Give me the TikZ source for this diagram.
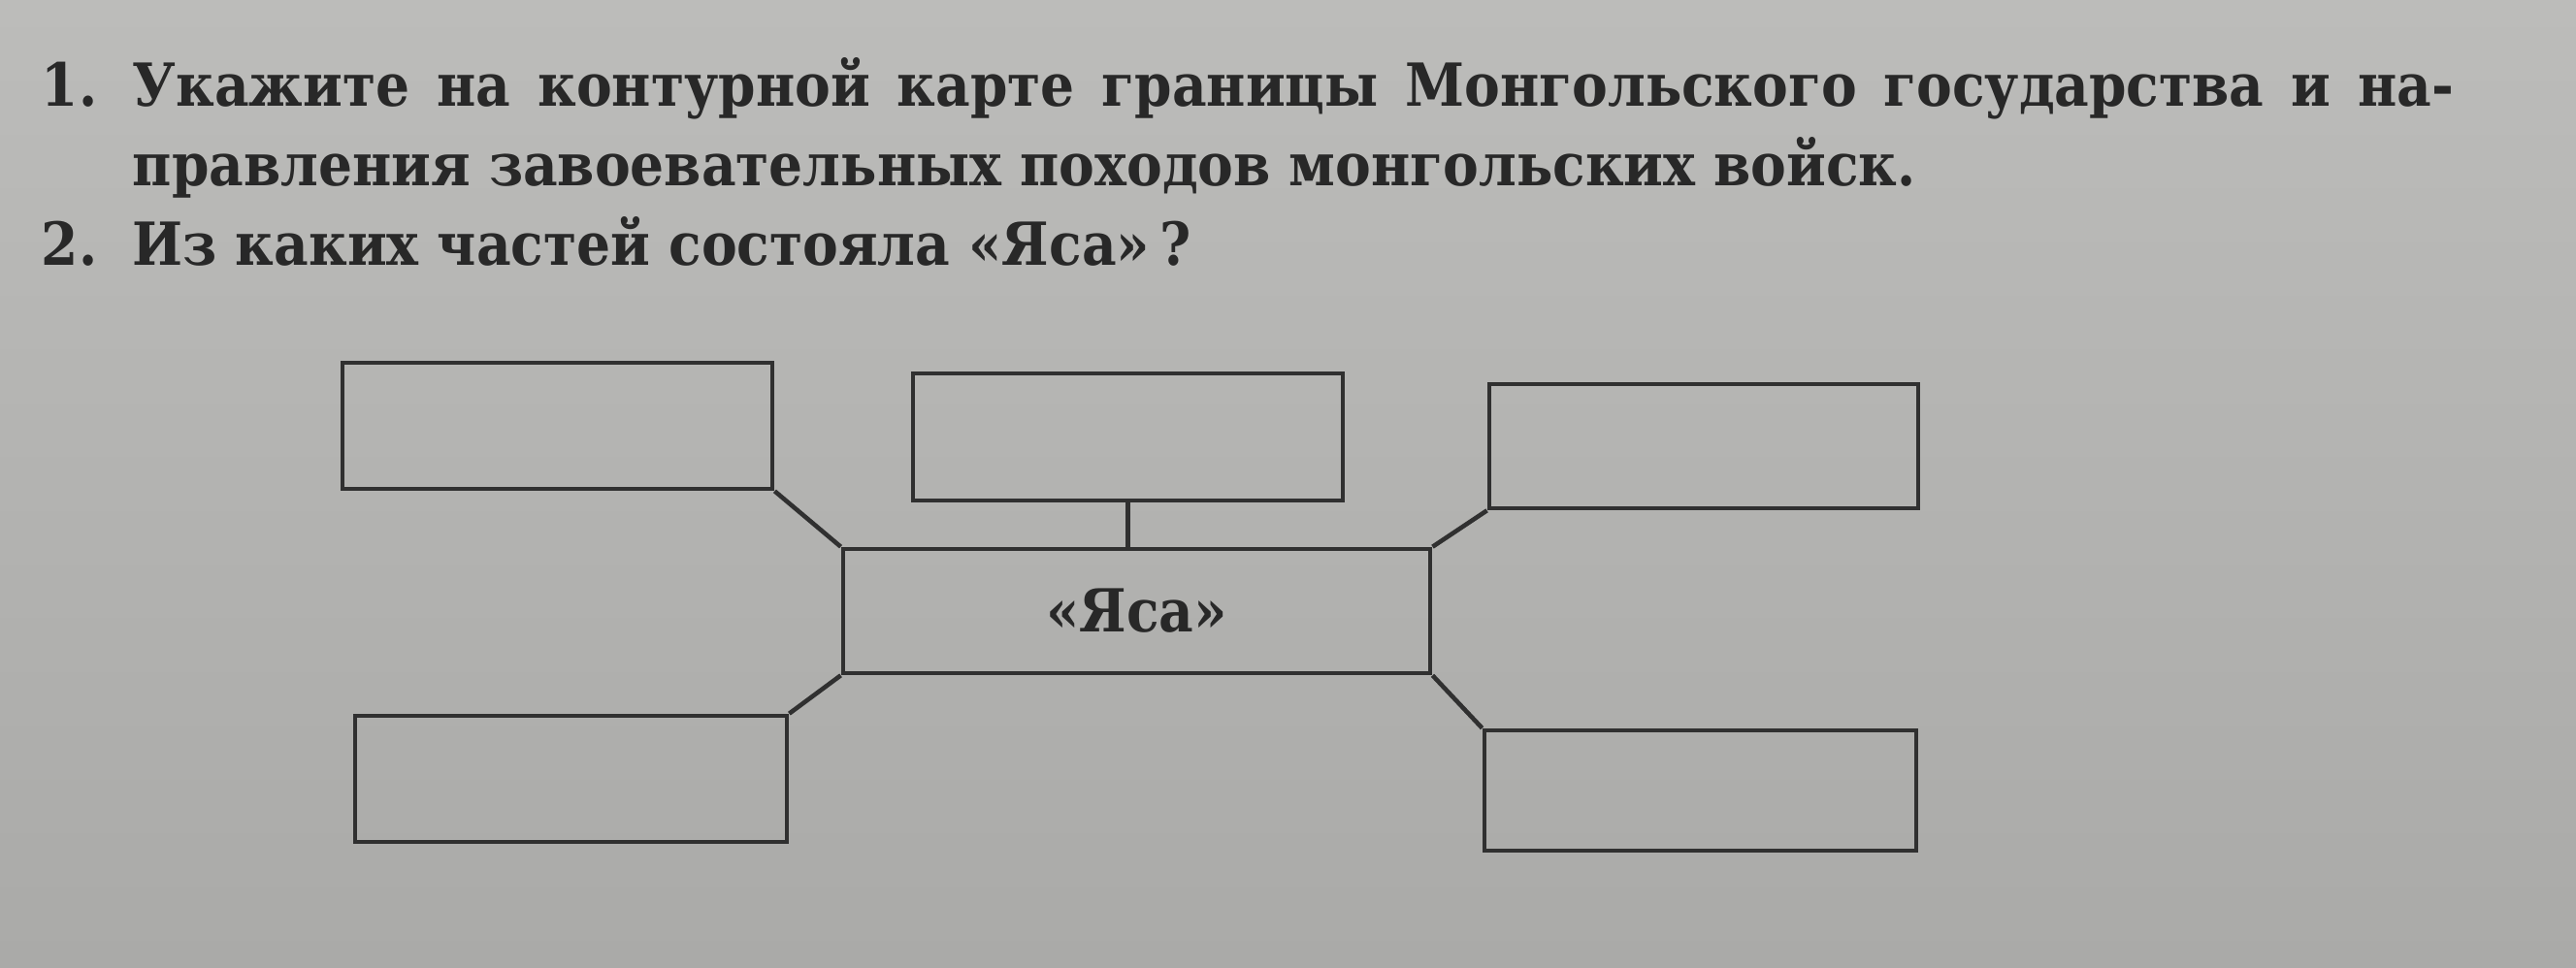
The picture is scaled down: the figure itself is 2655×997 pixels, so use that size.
\documentclass[tikz,border=0pt]{standalone}
\usepackage{fontspec}
\setmainfont{DejaVu Serif Condensed}
\definecolor{paperTop}{RGB}{188,188,186}
\definecolor{paperBot}{RGB}{170,170,168}
\definecolor{ink}{RGB}{40,40,40}
\definecolor{lineink}{RGB}{48,48,48}
\tikzset{
  blank/.style={draw=lineink, line width=1.3pt, rectangle, inner sep=0pt},
  conn/.style={draw=lineink, line width=1.3pt},
  head/.style={anchor=base west, inner sep=0pt, text=ink, font=\fontsize{17.4}{19}\selectfont\bfseries},
  center/.style={blank, font=\fontsize{17.4}{19}\selectfont\bfseries, text=ink}
}
\begin{document}
\begin{tikzpicture}[x=0.01cm,y=-0.01cm]
\useasboundingbox (0,0) rectangle (2655,997);
\shade[top color=paperTop, bottom color=paperBot] (0,0) rectangle (2655,997);
% heading
\node[head] (n1) at (42,110) {1.};
\node[head] (t1) at (136,110) {\makebox[23.91cm][s]{Укажите на контурной карте границы Монгольского государства и на-}};
\node[head] (t2) at (136,192) {правления завоевательных походов монгольских войск.};
\node[head] (n2) at (42,273) {2.};
\node[head] (t3) at (136,273) {Из каких частей состояла «Яса»\,?};
% boxes
\node[blank, minimum width=4.43cm, minimum height=1.30cm] (tl) at (574.5,439) {};
\node[blank, minimum width=4.43cm, minimum height=1.31cm] (tm) at (1162.5,450.5) {};
\node[blank, minimum width=4.42cm, minimum height=1.28cm] (tr) at (1756,460) {};
\node[center, minimum width=6.05cm, minimum height=1.28cm] (c) at (1171.5,630) {«Яса»};
\node[blank, minimum width=4.45cm, minimum height=1.30cm] (bl) at (588.5,803) {};
\node[blank, minimum width=4.45cm, minimum height=1.24cm] (br) at (1752.5,815) {};
% connectors
\draw[conn] (tl.south east) -- (c.north west);
\draw[conn] (c.south west) -- (bl.north east);
\draw[conn] (tm.south) -- (tm.south |- c.north);
\draw[conn] (c.north east) -- (tr.south west);
\draw[conn] (c.south east) -- (br.north west);
\end{tikzpicture}
\end{document}
